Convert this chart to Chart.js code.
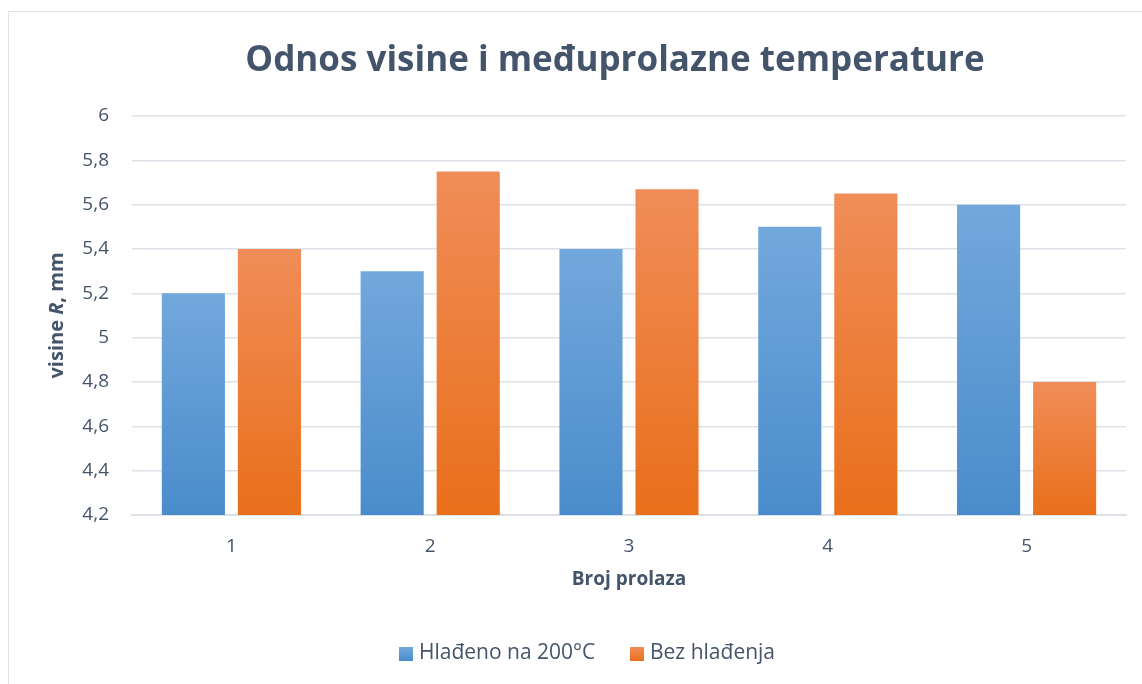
<!DOCTYPE html>
<html>
<head>
<meta charset="utf-8">
<script src="https://cdn.jsdelivr.net/npm/chart.js@4"></script>
<style>
    html, body { margin: 0; padding: 0; background: #fff; }
    .frame {
        position: absolute; left: 8px; top: 11px;
        width: 1200px; height: 700px;
        border: 1.5px solid #dfe3e8;
    }
    .wrap { position: absolute; left: 0; top: 0; width: 1142px; height: 684px; }
</style>
</head>
<body>
<div class="frame"></div>
<div class="wrap"><canvas id="bar-chart" width="1142" height="684"></canvas></div>
<script>
(function () {
    "use strict";

    var passes = ["1", "2", "3", "4", "5"];
    var cooled = [5.2, 5.3, 5.4, 5.5, 5.6];
    var notCooled = [5.4, 5.75, 5.67, 5.65, 4.8];
    var seriesNames = ["Hlađeno na 200°C", "Bez hlađenja"];
    var yTicks = [4.2, 4.4, 4.6, 4.8, 5, 5.2, 5.4, 5.6, 5.8, 6];

    var chartTitle = "Odnos visine i međuprolazne temperature";
    var xTitle = "Broj prolaza";

    var textColor = "#44546a";
    var gridColor = "#dde2e8";
    var fontFamily = "'Open Sans', sans-serif";

    // top / bottom colours of each series
    var blue = ["#72a8dc", "#4a8ccb"];
    var orange = ["#f08d58", "#e96f1b"];

    function barGradient(cols) {
        return function (ctx) {
            var chart = ctx.chart;
            if (!chart.chartArea || ctx.type !== "data") return cols[1];
            var top = chart.scales.y.getPixelForValue(ctx.raw);
            var g = chart.ctx.createLinearGradient(0, top, 0, chart.chartArea.bottom);
            g.addColorStop(0, cols[0]);
            g.addColorStop(1, cols[1]);
            return g;
        };
    }

    // title, axis titles and legend
    var decorations = {
        id: "decorations",
        afterDraw: function (chart) {
            var c = chart.ctx;
            var area = chart.chartArea;
            c.save();
            c.fillStyle = textColor;

            c.font = "bold 35px " + fontFamily;
            c.textAlign = "center";
            c.textBaseline = "middle";
            c.fillText(chartTitle, 615, 61);

            c.font = "bold 19px " + fontFamily;
            c.fillText(xTitle, (area.left + area.right) / 2, 580);

            // rotated y title with italic R
            var parts = [["bold ", "visine "], ["italic bold ", "R"], ["bold ", ", mm"]];
            var total = 0;
            parts.forEach(function (p) {
                c.font = p[0] + "20px " + fontFamily;
                total += c.measureText(p[1]).width;
            });
            c.translate(57, (area.top + area.bottom) / 2);
            c.rotate(-Math.PI / 2);
            c.textAlign = "left";
            var x = -total / 2;
            parts.forEach(function (p) {
                c.font = p[0] + "20px " + fontFamily;
                c.fillText(p[1], x, 0);
                x += c.measureText(p[1]).width;
            });
            c.restore();

            // legend
            c.save();
            c.font = "21px " + fontFamily;
            c.textBaseline = "middle";
            c.textAlign = "left";
            var lx = [399, 630];
            seriesNames.forEach(function (name, i) {
                var g = c.createLinearGradient(0, 647, 0, 661);
                g.addColorStop(0, i === 0 ? blue[0] : orange[0]);
                g.addColorStop(1, i === 0 ? blue[1] : orange[1]);
                c.fillStyle = g;
                c.fillRect(lx[i], 647, 14, 14);
                c.fillStyle = textColor;
                c.fillText(name, lx[i] + 20, 653);
            });
            c.restore();
        }
    };

    var ctx = document.getElementById("bar-chart").getContext("2d");
    new Chart(ctx, {
        type: "bar",
        data: {
            labels: passes,
            datasets: [
                {
                    label: seriesNames[0],
                    data: cooled,
                    backgroundColor: barGradient(blue),
                    categoryPercentage: 0.765,
                    barPercentage: 0.83
                },
                {
                    label: seriesNames[1],
                    data: notCooled,
                    backgroundColor: barGradient(orange),
                    categoryPercentage: 0.765,
                    barPercentage: 0.83
                }
            ]
        },
        options: {
            responsive: false,
            animation: false,
            layout: { padding: { top: 116, right: 16, left: 0, bottom: 0 } },
            plugins: {
                legend: { display: false },
                title: { display: false },
                tooltip: { enabled: false }
            },
            scales: {
                x: {
                    grid: { display: false, drawTicks: false },
                    border: { color: gridColor, width: 2 },
                    ticks: {
                        padding: 20,
                        color: textColor,
                        font: { family: fontFamily, size: 19 }
                    },
                    afterFit: function (scale) { scale.height = 169; }
                },
                y: {
                    min: yTicks[0],
                    max: yTicks[yTicks.length - 1],
                    afterBuildTicks: function (scale) {
                        scale.ticks = yTicks.map(function (v) { return { value: v }; });
                    },
                    grid: { color: gridColor, lineWidth: 1.5, drawTicks: false },
                    border: { display: false },
                    ticks: {
                        padding: 23,
                        color: textColor,
                        font: { family: fontFamily, size: 19 },
                        callback: function (v) {
                            return String(Number(v.toFixed(1))).replace(".", ",");
                        }
                    },
                    afterFit: function (scale) { scale.width = 132; }
                }
            }
        },
        plugins: [decorations]
    });
})();
</script>
</body>
</html>
